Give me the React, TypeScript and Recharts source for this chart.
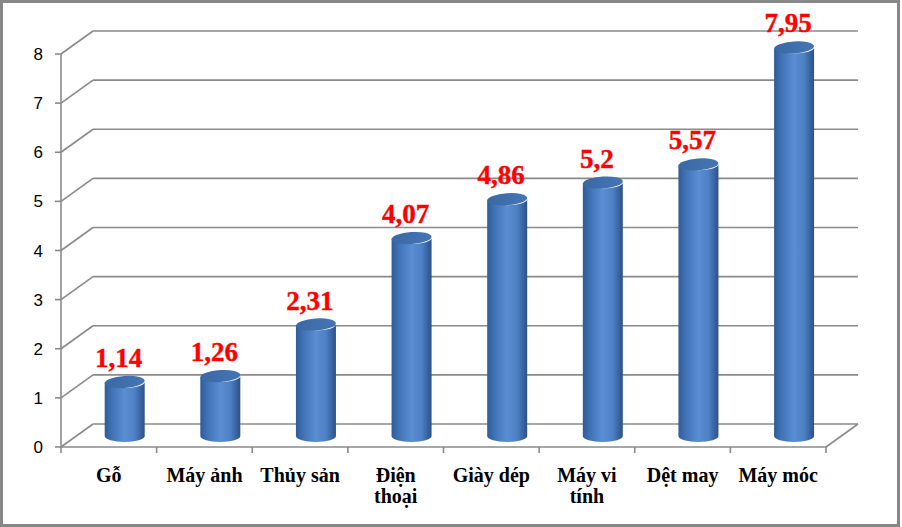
import React from "react";
import { BarChart, Bar, XAxis, YAxis, CartesianGrid } from "recharts";

const categories = ["Gỗ", "Máy ảnh", "Thủy sản", "Điện thoại", "Giày dép", "Máy vi tính", "Dệt may", "Máy móc"];
const categoryLines = [["Gỗ"], ["Máy ảnh"], ["Thủy sản"], ["Điện", "thoại"], ["Giày dép"], ["Máy vi", "tính"], ["Dệt may"], ["Máy móc"]];
const values = [1.14, 1.26, 2.31, 4.07, 4.86, 5.2, 5.57, 7.95];
const yTicks = [0, 1, 2, 3, 4, 5, 6, 7, 8];

const data = categories.map((c, i) => ({ name: c, value: values[i] }));

const W = 900;
const H = 527;
const MARGIN = { top: 54, right: 74, bottom: 0, left: 0 };
const YAXIS_W = 61;
const XAXIS_H = 80;
const PLOT_W = W - MARGIN.left - MARGIN.right - YAXIS_W;
const PLOT_BOTTOM = H - MARGIN.bottom - XAXIS_H;
const BAND = PLOT_W / categories.length;
const DX = 32;
const DY = -23;
const GRID = "#8a8a8a";
const SERIF = "'Liberation Serif', 'Times New Roman', serif";

const GridLine = (p: any) => {
  const { x1, x2, y1 } = p;
  return (
    <g key={p.key}>
      <line x1={x1} y1={y1} x2={x1 + DX} y2={y1 + DY} stroke={GRID} strokeWidth={1.6} />
      <line x1={x1 + DX} y1={y1 + DY} x2={x2 + DX} y2={y1 + DY} stroke={GRID} strokeWidth={1.6} />
      {Math.abs(y1 - PLOT_BOTTOM) < 1 && (
        <line x1={x2} y1={y1} x2={x2 + DX} y2={y1 + DY} stroke={GRID} strokeWidth={1.6} />
      )}
    </g>
  );
};

const Cylinder = (p: any) => {
  const { x, y, width, height, index } = p;
  const cx = x + width / 2 + 16;
  const rx = 20;
  const ry = 6;
  const topY = y - 9;
  const botY = y + height - 11;
  const id = `cyl-${index}`;
  const tid = `cyltop-${index}`;
  return (
    <g>
      <defs>
        <linearGradient id={id} x1="0" y1="0" x2="1" y2="0">
          <stop offset="0%" stopColor="#2f5c97" />
          <stop offset="18%" stopColor="#3f72b6" />
          <stop offset="50%" stopColor="#5a8ed3" />
          <stop offset="75%" stopColor="#4d80c4" />
          <stop offset="100%" stopColor="#2b5189" />
        </linearGradient>
        <linearGradient id={tid} x1="0" y1="0" x2="1" y2="0">
          <stop offset="0%" stopColor="#3a68a5" />
          <stop offset="100%" stopColor="#4576b4" />
        </linearGradient>
      </defs>
      <path
        d={`M${cx - rx},${topY} L${cx - rx},${botY} A${rx},${ry} 0 0 0 ${cx + rx},${botY} L${cx + rx},${topY} A${rx},${ry} 0 0 1 ${cx - rx},${topY} Z`}
        fill={`url(#${id})`}
      />
      <ellipse cx={cx} cy={topY} rx={rx} ry={ry} fill={`url(#${tid})`} transform={`rotate(-4 ${cx} ${topY})`} />
    </g>
  );
};

const ValueLabel = (p: any) => {
  const { x, y, width, value } = p;
  return (
    <text
      x={x + width / 2 + 10}
      y={y - 24}
      textAnchor="middle"
      fill="#ff0000"
      stroke="#ff0000"
      strokeWidth={0.4}
      fontFamily={SERIF}
      fontWeight="bold"
      fontSize={27}
    >
      {String(value).replace(".", ",")}
    </text>
  );
};

const XTick = (p: any) => {
  const { x, y, index } = p;
  const lines = categoryLines[index] || [];
  const last = index === categories.length - 1;
  return (
    <g>
      <line x1={x - BAND / 2} y1={y} x2={x - BAND / 2} y2={y + 6} stroke={GRID} strokeWidth={1.6} />
      {last && <line x1={x + BAND / 2} y1={y} x2={x + BAND / 2} y2={y + 6} stroke={GRID} strokeWidth={1.6} />}
      <text textAnchor="middle" fill="#000" fontFamily={SERIF} fontWeight="bold" fontSize={20}>
        {lines.map((l: string, i: number) => (
          <tspan key={i} x={x} y={y + 35 + i * 21}>
            {l}
          </tspan>
        ))}
      </text>
    </g>
  );
};

export default function App() {
  return (
    <div
      style={{
        position: "absolute",
        left: 0,
        top: 0,
        width: W,
        height: H,
        boxSizing: "border-box",
        border: "3px solid #878787",
        background: "#fff",
      }}
    >
      <div style={{ position: "absolute", left: -3, top: -3 }}>
        <BarChart width={W} height={H} data={data} margin={MARGIN} barCategoryGap="30%">
          <CartesianGrid vertical={false} horizontal={GridLine as any} />
          <XAxis
            dataKey="name"
            height={XAXIS_H}
            axisLine={{ stroke: GRID, strokeWidth: 1.6 }}
            tickLine={false}
            tickSize={0}
            tickMargin={0}
            interval={0}
            tick={XTick as any}
          />
          <YAxis
            width={YAXIS_W}
            domain={[0, 8]}
            ticks={yTicks}
            interval={0}
            axisLine={{ stroke: GRID, strokeWidth: 1.6 }}
            tickLine={{ stroke: GRID, strokeWidth: 1.6 }}
            tickSize={6}
            tickMargin={12}
            tick={{ fill: "#000", fontSize: 17, fontFamily: "'Liberation Sans', Arial, sans-serif" }}
          />
          <Bar dataKey="value" isAnimationActive={false} shape={Cylinder as any} label={ValueLabel as any} />
        </BarChart>
      </div>
    </div>
  );
}
